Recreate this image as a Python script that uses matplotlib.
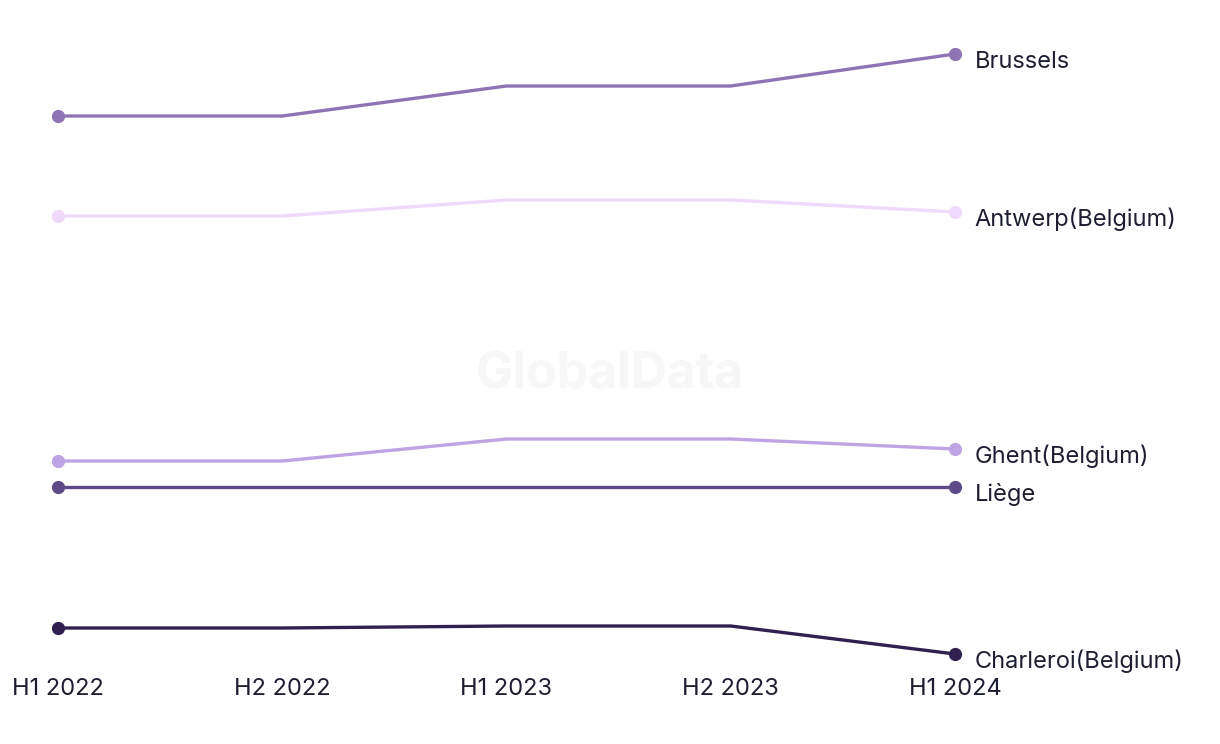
import matplotlib
matplotlib.use("Agg")
import matplotlib.pyplot as plt

periods = ["H1 2022", "H2 2022", "H1 2023", "H2 2023", "H1 2024"]
cities = ["Brussels", "Antwerp(Belgium)", "Ghent(Belgium)", "Liège", "Charleroi(Belgium)"]
brussels = [58.4, 58.4, 61.4, 61.4, 64.6]
antwerp = [48.4, 48.4, 50.0, 50.0, 48.8]
ghent = [23.9, 23.9, 26.1, 26.1, 25.1]
liege = [21.3, 21.3, 21.3, 21.3, 21.3]
charleroi = [7.2, 7.2, 7.4, 7.4, 4.6]
colors = ["#8E74B2", "#EFDAFB", "#BEA4E2", "#5E4A86", "#30204F"]

series = [brussels, antwerp, ghent, liege, charleroi]

W, H = 1220, 744
fig = plt.figure(figsize=(W / 100, H / 100), dpi=100)
left, right = 58, 955
top, bottom = 40, 668
ax = fig.add_axes([left / W, (H - bottom) / H, (right - left) / W, (bottom - top) / H])
ax.set_xlim(0, 4)
ax.set_ylim(3.2, 66)

txt = "#1E1E32"
font = ["Inter", "DejaVu Sans"]
fs = 17
x = list(range(len(periods)))
for name, vals, c in zip(cities, series, colors):
    ax.plot(x, vals, color=c, lw=2.4, clip_on=False, zorder=3)
    ax.plot([x[0], x[-1]], [vals[0], vals[-1]], ls="none", color=c, marker="o", ms=8.5,
            clip_on=False, zorder=4)
    ax.annotate(name, xy=(x[-1], vals[-1]), xytext=(14, -5.5), textcoords="offset points",
                ha="left", va="center", fontsize=fs, color=txt, family=font,
                annotation_clip=False)

ax.set_xticks(x)
ax.set_xticklabels(periods, fontsize=fs, color=txt, family=font)
ax.tick_params(axis="x", length=0, pad=7.5)
ax.set_yticks([])
for s in ax.spines.values():
    s.set_visible(False)

fig.text(610 / W, 1 - 375 / H, "GlobalData", ha="center", va="center",
         fontsize=36, fontweight="bold", color="#F7F7F7", family=font, zorder=0)

fig.savefig("out.png", dpi=100, facecolor="white")
